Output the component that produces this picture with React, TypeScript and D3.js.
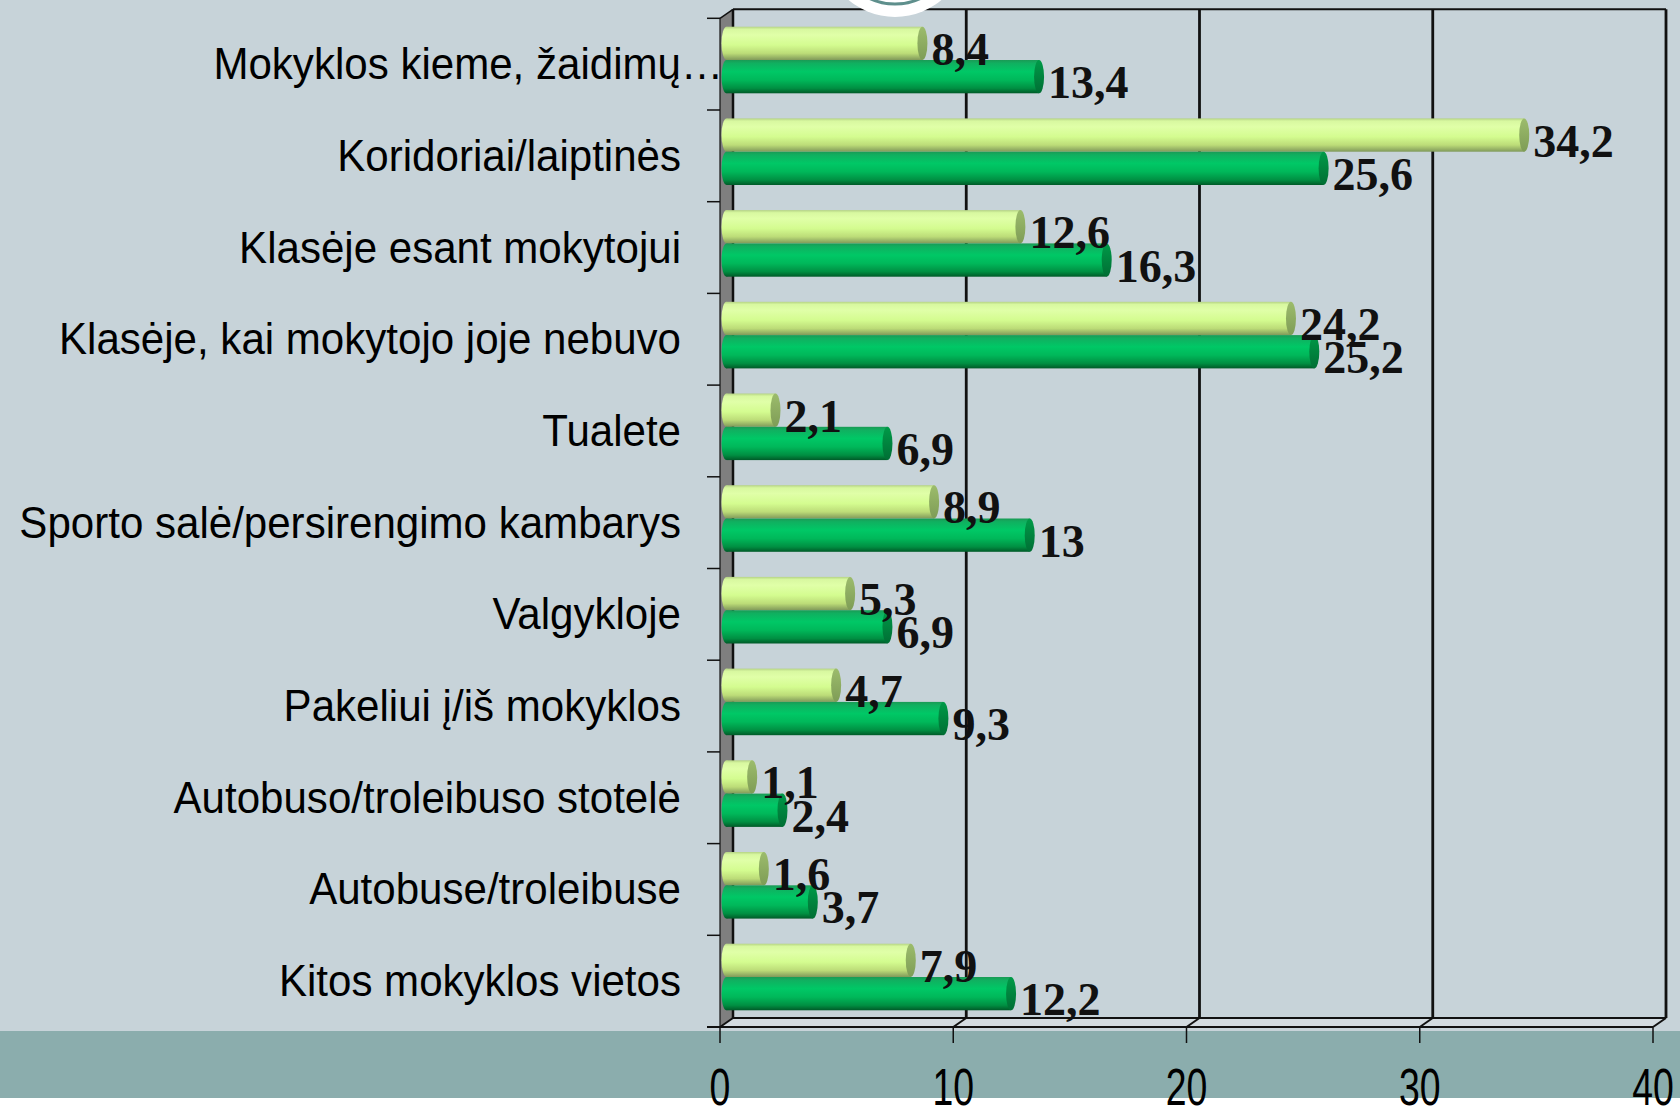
import React from 'react';
import * as d3 from 'd3';

const categories = [
  'Mokyklos kieme, žaidimų…',
  'Koridoriai/laiptinės',
  'Klasėje esant mokytojui',
  'Klasėje, kai mokytojo joje nebuvo',
  'Tualete',
  'Sporto salė/persirengimo kambarys',
  'Valgykloje',
  'Pakeliui į/iš mokyklos',
  'Autobuso/troleibuso stotelė',
  'Autobuse/troleibuse',
  'Kitos mokyklos vietos',
];
const seriesLight = [8.4, 34.2, 12.6, 24.2, 2.1, 8.9, 5.3, 4.7, 1.1, 1.6, 7.9];
const seriesDark = [13.4, 25.6, 16.3, 25.2, 6.9, 13, 6.9, 9.3, 2.4, 3.7, 12.2];
const xTicks = [0, 10, 20, 30, 40];
const seriesKeys = ['light', 'dark'];

const fmt = (v: number) => String(v).replace('.', ',');

export default function App() {
  const W = 1680, H = 1107;
  const DX = 13, DY = -9;
  const topY = 18.3, floorY = 1027;
  const x = d3.scaleLinear().domain([0, 40]).range([720, 1653]);
  const y = d3.scaleBand<string>().domain(categories).range([topY, floorY]);
  const sub = d3.scaleBand<string>().domain(seriesKeys).range([8.4, 75]);
  const barDX = 6.5;
  const rx = 5;
  const bh = sub.bandwidth();
  const x0 = x(0);

  const bars: any[] = [];
  categories.forEach((c, i) => {
    [seriesLight[i], seriesDark[i]].forEach((v, k) => {
      const key = seriesKeys[k];
      const by = (y(c) as number) + (sub(key) as number);
      bars.push({ key, v, by, c });
    });
  });

  return (
    <svg width={W} height={H} style={{ position: 'fixed', left: 0, top: 0 }}>
      <defs>
        <linearGradient id="gLight" x1="0" y1="0" x2="0" y2="1">
          <stop offset="0" stopColor="#b5d385" />
          <stop offset="0.08" stopColor="#d8f8a0" />
          <stop offset="0.25" stopColor="#e0ffa8" />
          <stop offset="0.55" stopColor="#d4fc90" />
          <stop offset="0.8" stopColor="#bcdc78" />
          <stop offset="1" stopColor="#80995a" />
        </linearGradient>
        <linearGradient id="gDark" x1="0" y1="0" x2="0" y2="1">
          <stop offset="0" stopColor="#1a9a55" />
          <stop offset="0.1" stopColor="#10b060" />
          <stop offset="0.35" stopColor="#00c866" />
          <stop offset="0.6" stopColor="#00b85a" />
          <stop offset="0.85" stopColor="#008f42" />
          <stop offset="1" stopColor="#005a28" />
        </linearGradient>
        <linearGradient id="cLight" x1="0" y1="0" x2="0" y2="1">
          <stop offset="0" stopColor="#9cbc6c" />
          <stop offset="1" stopColor="#7e9c56" />
        </linearGradient>
        <linearGradient id="cDark" x1="0" y1="0" x2="0" y2="1">
          <stop offset="0" stopColor="#009a48" />
          <stop offset="1" stopColor="#006e34" />
        </linearGradient>
      </defs>
      <rect x={0} y={0} width={W} height={H} fill="#ffffff" />
      <rect x={0} y={0} width={W} height={1031} fill="#c7d3d9" />
      <rect x={0} y={1031} width={W} height={67} fill="#8badad" />

      {/* floor */}
      <polygon
        points={`${x0},${floorY} ${x(40)},${floorY} ${x(40) + DX},${floorY + DY} ${x0 + DX},${floorY + DY}`}
        fill="#d3dbe0"
      />
      {/* left wall */}
      <polygon
        points={`${x0},${topY} ${x0 + DX},${topY + DY} ${x0 + DX},${floorY + DY} ${x0},${floorY}`}
        fill="#7f7f7f"
      />
      {/* back wall frame */}
      <line x1={x0 + DX} y1={topY + DY} x2={x(40) + DX} y2={topY + DY} stroke="#111" strokeWidth={2} />
      <line x1={x0 + DX} y1={topY + DY} x2={x0 + DX} y2={floorY + DY} stroke="#111" strokeWidth={2.5} />
      {xTicks.filter(t => t > 0).map(t => (
        <line key={'g' + t} x1={x(t) + DX} y1={topY + DY} x2={x(t) + DX} y2={floorY + DY} stroke="#111" strokeWidth={2.8} />
      ))}
      {/* floor lines */}
      <line x1={x0 + DX} y1={floorY + DY} x2={x(40) + DX} y2={floorY + DY} stroke="#111" strokeWidth={2} />
      <line x1={707} y1={floorY} x2={x(40)} y2={floorY} stroke="#111" strokeWidth={2} />
      {xTicks.map(t => (
        <g key={'t' + t}>
          <line x1={x(t)} y1={floorY} x2={x(t) + DX} y2={floorY + DY} stroke="#111" strokeWidth={2} />
          <line x1={x(t)} y1={floorY} x2={x(t)} y2={1043} stroke="#111" strokeWidth={1.5} />
          <text
            transform={`translate(${x(t)},1105) scale(0.72,1)`}
            textAnchor="middle"
            fontFamily="'Liberation Sans', Arial, sans-serif"
            fontSize={52}
            fill="#000"
          >
            {t}
          </text>
        </g>
      ))}
      {/* left axis */}
      <line x1={x0} y1={topY} x2={x0 + DX} y2={topY + DY} stroke="#111" strokeWidth={1.5} />
      <line x1={x0} y1={topY} x2={x0} y2={floorY} stroke="#111" strokeWidth={1.2} />
      {d3.range(categories.length + 1).map(i => {
        const yy = topY + i * y.step();
        return <line key={'lt' + i} x1={707} y1={yy} x2={x0} y2={yy} stroke="#111" strokeWidth={1.5} />;
      })}

      {/* bars */}
      {bars.map((b, i) => {
        const xs = x0 + barDX;
        const xe = x(b.v) + barDX;
        const fill = b.key === 'light' ? 'url(#gLight)' : 'url(#gDark)';
        const cap = b.key === 'light' ? 'url(#cLight)' : 'url(#cDark)';
        return (
          <g key={'b' + i}>
            <ellipse cx={xs} cy={b.by + bh / 2} rx={rx} ry={bh / 2} fill={fill} />
            <rect x={xs} y={b.by} width={xe - xs} height={bh} fill={fill} />
            <ellipse cx={xe} cy={b.by + bh / 2} rx={rx} ry={bh / 2} fill={cap} />
          </g>
        );
      })}

      {/* value labels */}
      {bars.map((b, i) => (
        <text
          key={'v' + i}
          x={x(b.v) + barDX + rx + 4}
          y={b.by + bh / 2 + 21.5}
          fontFamily="'Liberation Serif', 'Times New Roman', serif"
          fontWeight="bold"
          fontSize={46}
          fill="#111"
        >
          {fmt(b.v)}
        </text>
      ))}

      {/* category labels */}
      {categories.map((c, i) => (
        <text
          key={'c' + i}
          transform={`translate(${i === 0 ? 723 : 681},${(y(c) as number) + y.bandwidth() / 2 + 15}) scale(0.99,1.04)`}
          textAnchor="end"
          fontFamily="'Liberation Sans', Arial, sans-serif"
          fontSize={42.5}
          fill="#000"
        >
          {c}
        </text>
      ))}

      {/* logo fragment at top */}
      <circle cx={895} cy={-55} r={72} fill="#ffffff" />
      <circle cx={895} cy={-55} r={59} fill="none" stroke="#5e8f8c" strokeWidth={3} />
    </svg>
  );
}
